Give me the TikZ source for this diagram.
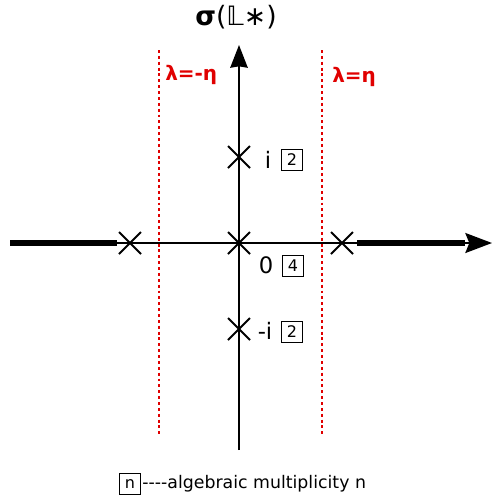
\documentclass[tikz,border=0pt]{standalone}
\usepackage{fontspec}
\setmainfont{DejaVu Sans}
\usetikzlibrary{arrows.meta,shapes.misc}
\definecolor{LRed}{HTML}{E00000}

\begin{document}
\begin{tikzpicture}[x=0.75pt,y=-0.75pt,
  ev/.style={cross out,draw,line width=1.5pt,inner sep=0pt,minimum size=15pt},
  mult/.style={draw,line width=0.75pt,inner sep=0pt,minimum size=15.5pt,font=\fontsize{12}{14}\selectfont},
  lbl/.style={font=\fontsize{17}{19}\selectfont,inner sep=0pt},
  bound/.style={LRed,line width=1.5pt,dash pattern=on 2.2pt off 2.2pt},
  bl/.style={text=LRed,font=\fontsize{15}{17}\selectfont\bfseries},
  ax/.style={line width=1.5pt},
  tip/.style={-{Stealth[length=20pt,width=15pt,inset=3pt]}}
]
  \useasboundingbox (0,0) rectangle (492,501);
  % axes
  \coordinate (xl) at (10,243);
  \coordinate (xr) at (492,243);
  \coordinate (yb) at (239,450);
  \coordinate (yt) at (239,45);
  \coordinate (tl) at (117,243);
  \coordinate (tr) at (357,243);
  \draw[ax,tip] (xl) -- (xr);
  \draw[ax,-{Stealth[length=17pt,width=13pt,inset=1pt]}] (yb) -- (yt);
  \draw[line width=4.5pt] (xl) -- (tl);
  \draw[line width=4.5pt] (tr) -- (465,243);
  \node[font=\fontsize{20}{23}\selectfont] (sig) at (236,17) {\textbf{σ}(𝕃∗)};
  % eigenvalues
  \node[ev] (e0) at (239,243) {};
  \node[ev] (ep) at (239,157) {};
  \node[ev] (em) at (239,329) {};
  \node[ev] (el) at (130,243) {};
  \node[ev] (er) at (342,243) {};
  \node[lbl] (li) at (268,160) {i};
  \node[mult] (mi) at (292,160) {2};
  \node[lbl] (l0) at (266,265) {0};
  \node[mult] (m0) at (293,266) {4};
  \node[lbl] (lm) at (265,331) {-i};
  \node[mult] (mm) at (292,332) {2};
  % lines lambda = +/- eta
  \coordinate (dl1) at (159,50);
  \coordinate (dl2) at (159,437);
  \coordinate (dr1) at (322,50);
  \coordinate (dr2) at (322,437);
  \draw[bound] (dl1) -- (dl2);
  \draw[bound] (dr1) -- (dr2);
  \node[bl,anchor=west,inner sep=0pt] (etal) at (165,75) {λ=-η};
  \node[bl,anchor=west,inner sep=0pt] (etar) at (332,77) {λ=η};
  % legend
  \node[mult,font=\fontsize{12}{14}\selectfont] (key) at (130,484) {n};
  \node[anchor=west,inner sep=1pt,font=\fontsize{13}{15}\selectfont] (keytext) at (key.east) {{-}{-}{-}{-}algebraic multiplicity n};
\end{tikzpicture}
\end{document}
